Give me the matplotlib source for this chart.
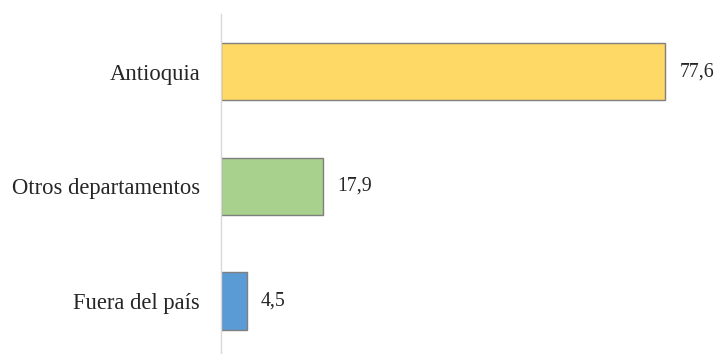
import matplotlib
matplotlib.use("Agg")
import matplotlib.pyplot as plt

categories = ["Fuera del país", "Otros departamentos", "Antioquia"]
values = [4.5, 17.9, 77.6]
colors = ["#5B9BD5", "#A9D18E", "#FFD966"]
value_labels = ["4,5", "17,9", "77,6"]

plt.rcParams['font.family'] = ['Liberation Serif', 'DejaVu Serif']

fig = plt.figure(figsize=(7.2, 3.54), dpi=100)
ax = fig.add_axes([221/720, 1/354, 498/720, 339/354])

ypos = list(range(len(categories)))
ax.barh(ypos, values, height=0.5, color=colors, edgecolor="#7F7F7F", linewidth=1.0)
for y, v, lab in zip(ypos, values, value_labels):
    ax.text(v + 2.5, y, lab, va="center", ha="left", fontsize=14.3, color="#262626")

ax.set_xlim(0, 87)
ax.set_ylim(-0.454, 2.503)
ax.set_yticks(ypos)
ax.set_yticklabels(categories, fontsize=16.3, color="#262626")
ax.tick_params(axis="y", length=0, pad=15)
ax.set_xticks([])
for s in ["top", "right", "bottom"]:
    ax.spines[s].set_visible(False)
ax.spines["left"].set_color("#D9D9D9")
ax.spines["left"].set_linewidth(1.0)

fig.savefig("out.png", dpi=100)
